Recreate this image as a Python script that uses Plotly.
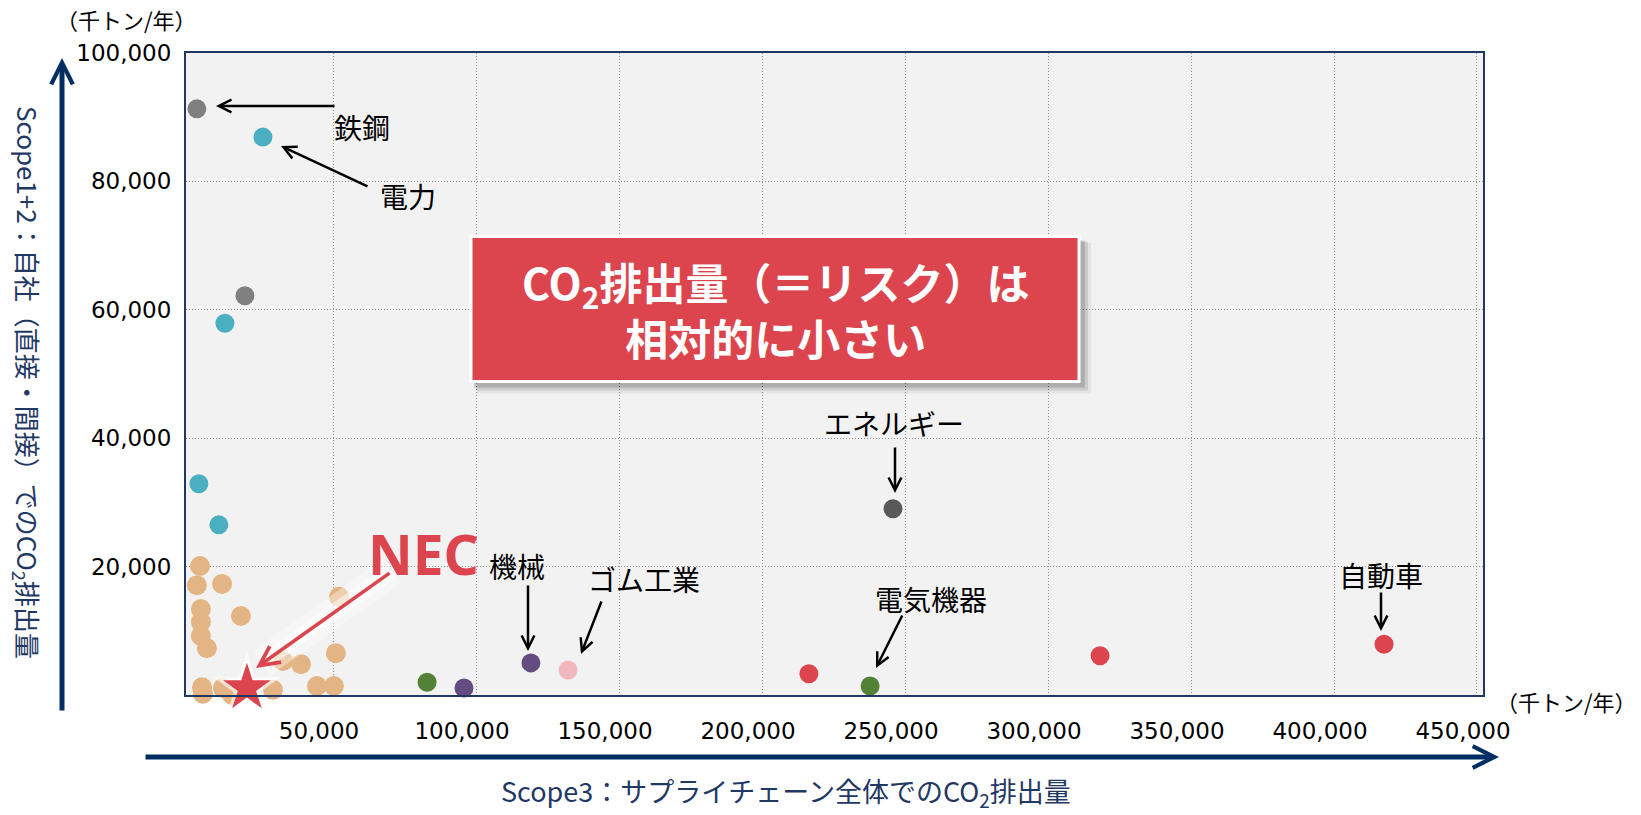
import plotly.graph_objects as go

# ---------------- data (千トン/年) ----------------
steel_x = [2400, 19200]
steel_y = [91300, 62200]
power_x = [25500, 12200, 3100, 10100]
power_y = [86900, 57900, 32900, 26500]
energy_x = [245800]
energy_y = [29000]
other_x = [3500, 2400, 11200, 3800, 3800, 17800, 3800, 5900, 4200, 4500,
           11500, 14700, 29000, 32500, 38800, 44400, 50300, 51000, 52100]
other_y = [20100, 17100, 17300, 13400, 11400, 12300, 9200, 7300, 1200, 200,
           1100, 0, 800, 5300, 4800, 1400, 1400, 6500, 15300]
machine_x = [95800, 119200]
machine_y = [1100, 5000]
rubber_x = [132200]
rubber_y = [3900]
electric_x = [82900, 237800]
electric_y = [2000, 1400]
auto_x = [216400, 318200, 417500]
auto_y = [3300, 6100, 7900]
nec_x = [19900]
nec_y = [1100]

x_ticks = [50000, 100000, 150000, 200000, 250000, 300000, 350000, 400000, 450000]
y_ticks = [20000, 40000, 60000, 80000, 100000]

# ---------------- geometry helpers (pixel -> paper) ----------------
W, H = 1641, 815
L, R, T, B = 186, 1483, 53, 695


def xp(px):
    return (px - L) / (R - L)


def yp(py):
    return (B - py) / (B - T)


NAVY = "#1F3864"
RED = "#DC454E"
JP = "Noto Sans CJK JP"
LAT = "DejaVu Sans, Noto Sans CJK JP"

fig = go.Figure()


def add_pts(x, y, color, size=19, symbol="circle"):
    fig.add_trace(go.Scatter(x=x, y=y, mode="markers", cliponaxis=False,
                             marker=dict(color=color, size=size, symbol=symbol,
                                         line=dict(width=0)),
                             hoverinfo="skip", showlegend=False))


add_pts(other_x, other_y, "#E4B584", size=20)
add_pts(steel_x, steel_y, "#808080")
add_pts(power_x, power_y, "#4AB0C1")
add_pts(energy_x, energy_y, "#595959")
add_pts(machine_x, machine_y, "#654C80")
add_pts(rubber_x, rubber_y, "#F2B8C0")
add_pts(electric_x, electric_y, "#538135")
add_pts(auto_x, auto_y, RED)
# glow around NEC star
add_pts(nec_x, nec_y, "rgba(255,255,255,0.55)", size=52, symbol="star")
add_pts(nec_x, nec_y, "rgba(255,255,255,0.6)", size=42, symbol="star")
add_pts(nec_x, nec_y, RED, size=36, symbol="star")

shapes = []
# white glow along NEC arrow
for w, op in [(30, 0.35), (16, 0.5)]:
    shapes.append(dict(type="line", xref="paper", yref="paper", layer="above",
                       x0=xp(392), y0=yp(571), x1=xp(262), y1=yp(663),
                       line=dict(color=f"rgba(255,255,255,{op})", width=w)))
# callout shadow (soft)
for dx, op in [(12, 0.06), (9, 0.1), (6, 0.14)]:
    shapes.append(dict(type="rect", xref="paper", yref="paper", layer="above",
                       x0=xp(471 + dx * 0.5), x1=xp(1079 + dx), y0=yp(238 + dx * 0.4),
                       y1=yp(381.5 + dx),
                       fillcolor=f"rgba(0,0,0,{op})", line=dict(width=0)))
# callout box
shapes.append(dict(type="rect", xref="paper", yref="paper", layer="above",
                   x0=xp(471), x1=xp(1079), y0=yp(236.5), y1=yp(381.5),
                   fillcolor=RED, line=dict(color="white", width=3)))

ann = []


def label(text, px, py, size=28, color="black", font=JP, bold=False):
    t = f"<b>{text}</b>" if bold else text
    ann.append(dict(text=t, x=xp(px), y=yp(py), xref="paper", yref="paper",
                    showarrow=False, xanchor="center", yanchor="middle",
                    font=dict(family=font, size=size, color=color)))


def arrow(tail, tip, color="black", width=2.5, size=1.0, head=5):
    ann.append(dict(text="", x=xp(tip[0]), y=yp(tip[1]), xref="paper", yref="paper",
                    ax=tail[0] - tip[0], ay=tail[1] - tip[1],
                    showarrow=True, arrowhead=head, arrowsize=size,
                    arrowwidth=width, arrowcolor=color, standoff=0, startstandoff=0))


label("鉄鋼", 362, 127)
arrow((336, 106), (216, 106))
label("電力", 408, 196)
arrow((369, 187), (281, 146))
label("エネルギー", 894, 423)
arrow((895, 446), (895, 493))
label("電気機器", 931, 599)
arrow((903, 614), (876, 668))
label("機械", 517, 566)
arrow((528, 584), (528, 651))
label("ゴム工業", 644, 579)
arrow((602, 600), (581, 654))
label("自動車", 1381, 575)
arrow((1381, 591), (1381, 631))

label("NEC", 423, 553, size=55, color=RED, font="Noto Sans", bold=True)
arrow((391, 572), (256, 668), color=RED, width=3.5, size=1.1)

# callout text
label("CO<sub>2</sub>排出量（＝リスク）は<br>相対的に小さい", 775, 309,
      size=43, color="white", bold=True)

# units
label("（千トン/年）", 126, 19, size=22)
label("（千トン/年）", 1566, 701, size=22)

# big axis arrows
arrow((62, 712), (62, 58), color="#002D62", width=5, size=0.85)
arrow((144, 757), (1499, 757), color="#002D62", width=5, size=0.85)

# axis titles
ann.append(dict(text="Scope1+2：自社（直接・間接）でのCO<sub>2</sub>排出量",
                x=xp(27), y=yp(382), xref="paper", yref="paper", showarrow=False,
                textangle=90, xanchor="center", yanchor="middle",
                font=dict(family=JP, size=26, color=NAVY)))
ann.append(dict(text="Scope3：サプライチェーン全体でのCO<sub>2</sub>排出量",
                x=xp(786), y=yp(792), xref="paper", yref="paper", showarrow=False,
                xanchor="center", yanchor="middle",
                font=dict(family=JP, size=27, color=NAVY)))

fig.update_layout(
    width=W, height=H,
    margin=dict(l=L, r=W - R, t=T, b=H - B, pad=0),
    paper_bgcolor="white", plot_bgcolor="#F2F2F2",
    showlegend=False,
    shapes=shapes, annotations=ann,
    font=dict(family=LAT, size=23, color="black"),
)
fig.update_xaxes(range=[-1400, 452100], tickvals=x_ticks, tickformat=",",
                 showgrid=True, gridcolor="#8C8C8C", griddash="1px,2px", gridwidth=1,
                 showline=True, mirror=True, linecolor=NAVY, linewidth=2,
                 zeroline=False, ticks="", ticklabelstandoff=14, ticklabelshift=-14,
                 tickfont=dict(family=LAT, size=23, color="black"))
fig.update_yaxes(range=[0, 100000], tickvals=y_ticks, tickformat=",",
                 showgrid=True, gridcolor="#8C8C8C", griddash="1px,2px", gridwidth=1,
                 showline=True, mirror=True, linecolor=NAVY, linewidth=2,
                 zeroline=False, ticks="", ticklabelstandoff=8,
                 tickfont=dict(family=LAT, size=23, color="black"))

fig.write_html("out.html")
